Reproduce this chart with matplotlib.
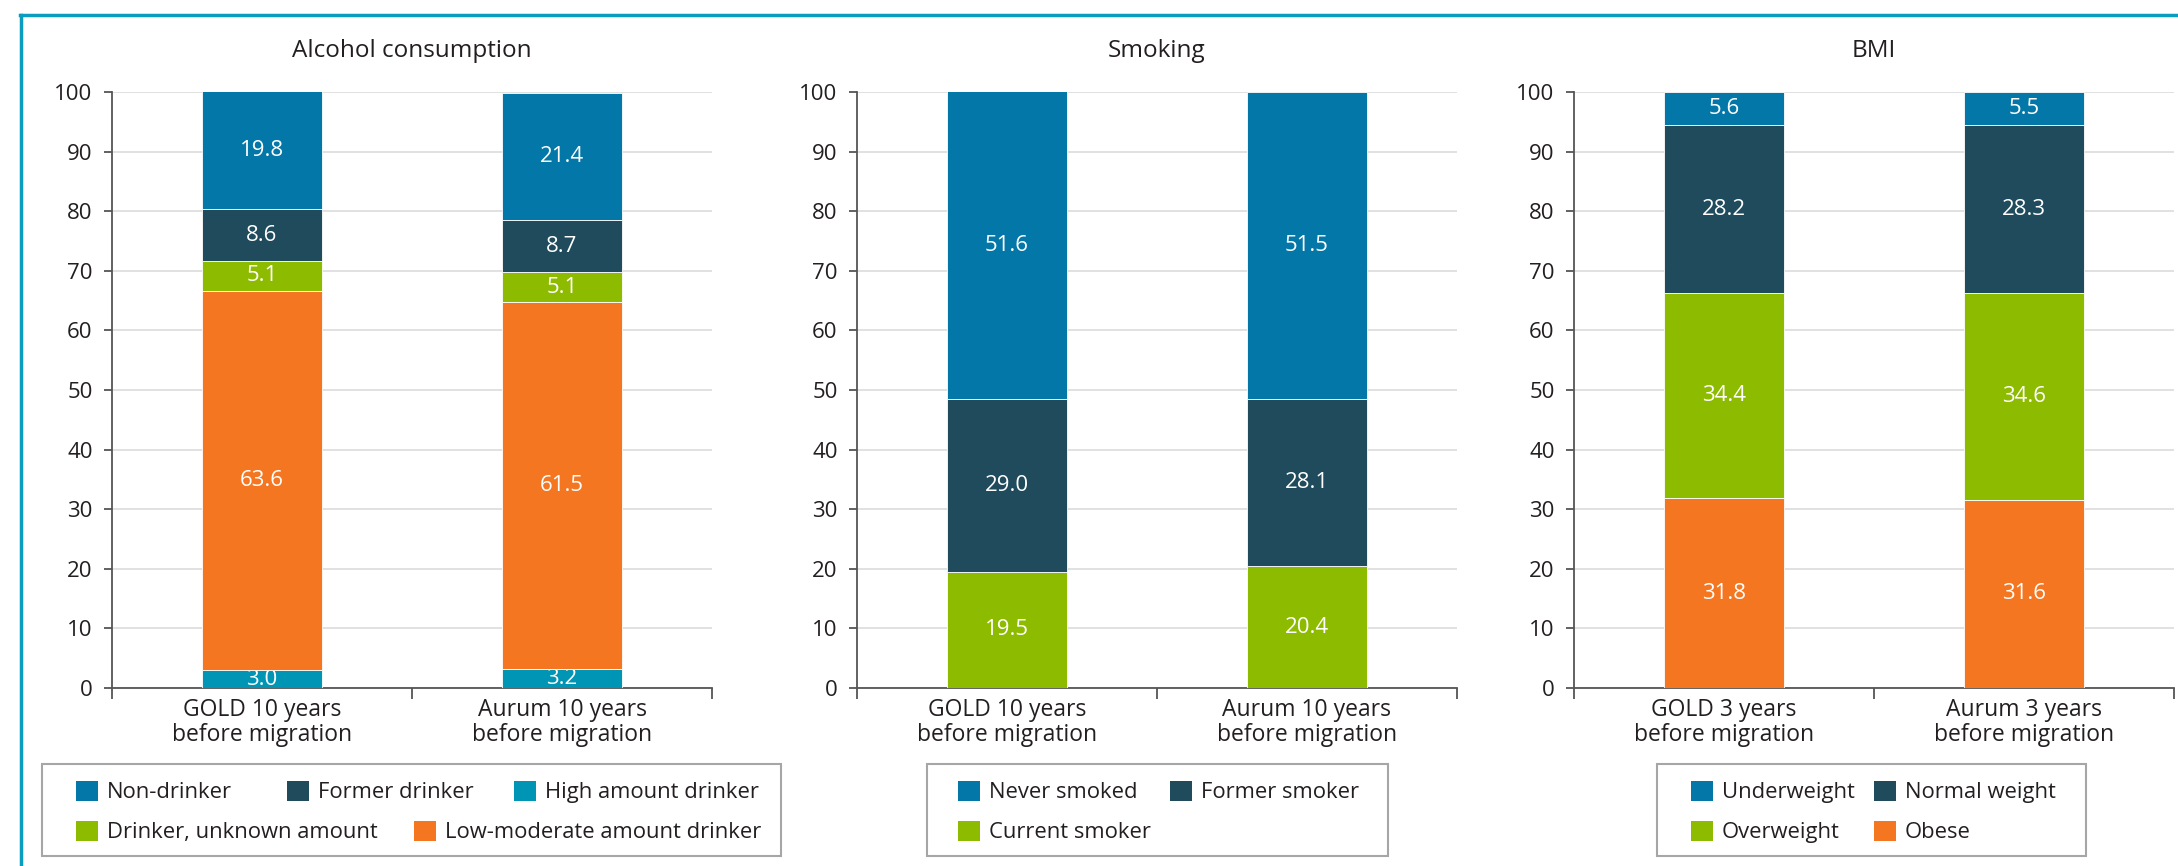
import matplotlib.pyplot as plt
from matplotlib.patches import Patch, Rectangle
from matplotlib.lines import Line2D

plt.rcParams['font.family'] = ['Open Sans', 'DejaVu Sans']

# --- data (percent) ---
alcohol_groups = ['GOLD 10 years\nbefore migration', 'Aurum 10 years\nbefore migration']
high_amount = [3.0, 3.2]
low_moderate = [63.6, 61.5]
drinker_unknown = [5.1, 5.1]
former_drinker = [8.6, 8.7]
non_drinker = [19.8, 21.4]

smoking_groups = ['GOLD 10 years\nbefore migration', 'Aurum 10 years\nbefore migration']
current_smoker = [19.5, 20.4]
former_smoker = [29.0, 28.1]
never_smoked = [51.6, 51.5]

bmi_groups = ['GOLD 3 years\nbefore migration', 'Aurum 3 years\nbefore migration']
obese = [31.8, 31.6]
overweight = [34.4, 34.6]
normal_weight = [28.2, 28.3]
underweight = [5.6, 5.5]

BLUE = '#0377a8'
DARK = '#1f4b5c'
TEAL = '#0095b5'
GREEN = '#8dbb00'
ORANGE = '#f47621'
TXT = '#231f20'

W, H = 2178, 866

fig = plt.figure(figsize=(W / 100, H / 100), dpi=100)


def px_box(x0, y0, x1, y1):
    return [x0 / W, 1 - y1 / H, (x1 - x0) / W, (y1 - y0) / H]


def panel(left, title, groups, series):
    ax = fig.add_axes(px_box(left, 92, left + 600, 688))
    x = range(len(groups))
    bottom = [0] * len(groups)
    for name, vals, col in series:
        bars = ax.bar(x, vals, 0.4, bottom=bottom, color=col, label=name,
                      edgecolor='white', linewidth=0.6, zorder=3)
        ax.bar_label(bars, labels=['%.1f' % v for v in vals], label_type='center',
                     color='white', fontsize=16)
        bottom = [b + v for b, v in zip(bottom, vals)]
    ax.set_xlim(-0.5, len(groups) - 0.5)
    ax.set_ylim(0, 100)
    ax.set_yticks(range(0, 101, 10))
    ax.set_xticks(list(x))
    ax.set_xticklabels(groups, fontsize=16.5, color=TXT, linespacing=1.05)
    ax.set_xticks([i - 0.5 for i in range(len(groups) + 1)], minor=True)
    ax.tick_params(axis='x', which='major', length=0, pad=7)
    ax.tick_params(axis='x', which='minor', length=8, width=1.3, color='#555555')
    ax.tick_params(axis='y', length=6, width=1.3, color='#555555', labelsize=16,
                   labelcolor=TXT, pad=8)
    ax.grid(axis='y', color='#dcdcdc', linewidth=1.2, zorder=0)
    for s in ['top', 'right']:
        ax.spines[s].set_visible(False)
    for s in ['left', 'bottom']:
        ax.spines[s].set_color('#555555')
        ax.spines[s].set_linewidth(1.3)
    ax.set_title(title, fontsize=17.5, color=TXT, pad=25)
    return ax


panel(112, 'Alcohol consumption', alcohol_groups, [
    ('High amount drinker', high_amount, TEAL),
    ('Low-moderate amount drinker', low_moderate, ORANGE),
    ('Drinker, unknown amount', drinker_unknown, GREEN),
    ('Former drinker', former_drinker, DARK),
    ('Non-drinker', non_drinker, BLUE),
])
panel(857, 'Smoking', smoking_groups, [
    ('Current smoker', current_smoker, GREEN),
    ('Former smoker', former_smoker, DARK),
    ('Never smoked', never_smoked, BLUE),
])
panel(1574, 'BMI', bmi_groups, [
    ('Obese', obese, ORANGE),
    ('Overweight', overweight, GREEN),
    ('Normal weight', normal_weight, DARK),
    ('Underweight', underweight, BLUE),
])

# legends: boxes and items (x of square, row y) in pixels
legend_boxes = [(42, 764, 781, 856), (927, 764, 1388, 856), (1657, 764, 2086, 856)]
legend_items = [
    ('Non-drinker', BLUE, 76, 792), ('Former drinker', DARK, 287, 792),
    ('High amount drinker', TEAL, 514, 792),
    ('Drinker, unknown amount', GREEN, 76, 832),
    ('Low-moderate amount drinker', ORANGE, 414, 832),
    ('Never smoked', BLUE, 958, 792), ('Former smoker', DARK, 1170, 792),
    ('Current smoker', GREEN, 958, 832),
    ('Underweight', BLUE, 1691, 792), ('Normal weight', DARK, 1874, 792),
    ('Overweight', GREEN, 1691, 832), ('Obese', ORANGE, 1874, 832),
]
for x0, y0, x1, y1 in legend_boxes:
    fig.add_artist(Rectangle((x0 / W, 1 - y1 / H), (x1 - x0) / W, (y1 - y0) / H,
                             transform=fig.transFigure, fill=False,
                             edgecolor='#a6a6a6', linewidth=1.5))
LFS = 15.8
hs = 22 / (LFS * 100 / 72)
for name, col, lx, ly in legend_items:
    fig.legend([Patch(facecolor=col)], [name], loc='center left',
               bbox_to_anchor=(lx / W, 1 - ly / H), frameon=False, borderpad=0,
               borderaxespad=0, handlelength=hs, handleheight=hs,
               handletextpad=0.4, fontsize=LFS, labelcolor=TXT)

# outer frame lines
fig.add_artist(Line2D([20 / W, 1], [1 - 15 / H, 1 - 15 / H], transform=fig.transFigure,
                      color='#0a9dbf', linewidth=2.5))
fig.add_artist(Line2D([21 / W, 21 / W], [0, 1 - 15 / H], transform=fig.transFigure,
                      color='#0a9dbf', linewidth=2.5))

fig.savefig('out.png', dpi=100)
